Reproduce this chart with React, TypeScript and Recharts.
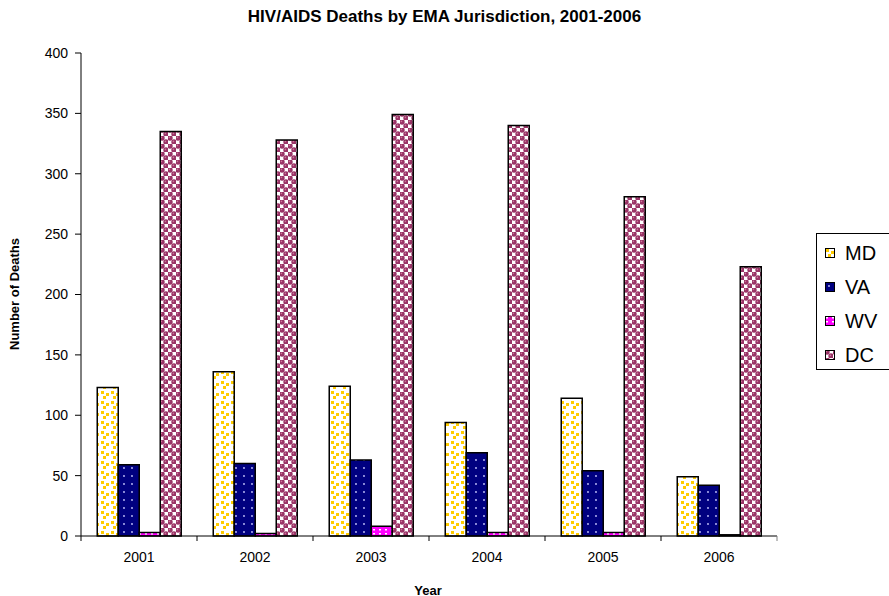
import { BarChart, Bar, XAxis, YAxis } from 'recharts';

const years = ['2001', '2002', '2003', '2004', '2005', '2006'];
const md = [123, 136, 124, 94, 114, 49];
const va = [59, 60, 63, 69, 54, 42];
const wv = [3, 2, 8, 3, 3, 1];
const dc = [335, 328, 349, 340, 281, 223];
const yTicks = [0, 50, 100, 150, 200, 250, 300, 350, 400];

const series = [
  { key: 'MD', fill: 'url(#pMD)' },
  { key: 'VA', fill: 'url(#pVA)' },
  { key: 'WV', fill: 'url(#pWV)' },
  { key: 'DC', fill: 'url(#pDC)' },
];

const data = years.map((year, i) => ({ year, MD: md[i], VA: va[i], WV: wv[i], DC: dc[i] }));

const FONT = '"Liberation Sans", Arial, sans-serif';
const HALF_BAND = 58;

function Patterns() {
  return (
    <defs>
      <pattern id="pMD" width="10" height="10" patternUnits="userSpaceOnUse">
        <rect width="10" height="10" fill="#fff" />
        <rect x="1" y="1" width="3" height="3" fill="#FFCC00" />
        <rect x="6" y="3" width="3" height="3" fill="#FFCC00" />
        <rect x="3" y="6" width="3" height="3" fill="#FFCC00" />
      </pattern>
      <pattern id="pVA" width="8" height="8" patternUnits="userSpaceOnUse">
        <rect width="8" height="8" fill="#000080" />
        <circle cx="4" cy="4" r="0.9" fill="#c8c8ff" />
      </pattern>
      <pattern id="pWV" width="6" height="4" patternUnits="userSpaceOnUse">
        <rect width="6" height="4" fill="#FF00FF" />
        <rect x="1" y="1" width="2" height="1.5" fill="#fff" />
      </pattern>
      <pattern id="pDC" width="8" height="8" patternUnits="userSpaceOnUse">
        <rect width="8" height="8" fill="#fff" />
        <circle cx="2" cy="2" r="2.7" fill="#993366" />
        <circle cx="6" cy="6" r="2.7" fill="#993366" />
        <circle cx="1.4" cy="1.4" r="0.8" fill="#cc7799" />
        <circle cx="5.4" cy="5.4" r="0.8" fill="#cc7799" />
      </pattern>
    </defs>
  );
}

function XTick(props: any) {
  const { x, y, payload, index } = props;
  return (
    <g>
      <line x1={x - HALF_BAND} x2={x - HALF_BAND} y1={y} y2={y + 5} stroke="#000" />
      {index === years.length - 1 && (
        <line x1={x + HALF_BAND} x2={x + HALF_BAND} y1={y} y2={y + 5} stroke="#808080" />
      )}
      <text x={x} y={y + 26} textAnchor="middle" fontSize={14} fill="#000" fontFamily={FONT}>
        {payload.value}
      </text>
    </g>
  );
}

export default function App() {
  return (
    <div style={{ position: 'absolute', left: 0, top: 0, width: 889, height: 596, background: '#fff', fontFamily: FONT, overflow: 'hidden' }}>
      <div style={{ position: 'absolute', left: 0, width: 889, top: 7, textAlign: 'center', fontSize: 17, fontWeight: 'bold' }}>
        HIV/AIDS Deaths by EMA Jurisdiction, 2001-2006
      </div>
      <div
        style={{
          position: 'absolute', left: 14, top: 294, fontSize: 13, fontWeight: 'bold', whiteSpace: 'nowrap',
          transform: 'translate(-50%, -50%) rotate(-90deg)',
        }}
      >
        Number of Deaths
      </div>
      <div style={{ position: 'absolute', left: 428, top: 590, fontSize: 13, fontWeight: 'bold', transform: 'translate(-50%, -50%)' }}>
        Year
      </div>

      <BarChart
        width={889}
        height={596}
        data={data}
        margin={{ top: 53, right: 112, bottom: 30, left: 9 }}
        barCategoryGap="14%"
        barGap={0}
      >
        <Patterns />
        <XAxis
          dataKey="year"
          height={30}
          axisLine={{ stroke: '#000' }}
          tickLine={false}
          tickSize={0}
          tickMargin={0}
          tick={<XTick />}
          interval={0}
        />
        <XAxis xAxisId="top" dataKey="year" orientation="top" height={0} axisLine={{ stroke: '#000' }} tick={false} tickLine={false} />
        <YAxis
          width={72}
          domain={[0, 400]}
          ticks={yTicks}
          interval={0}
          axisLine={{ stroke: '#000' }}
          tickLine={{ stroke: '#000' }}
          tickSize={6}
          tickMargin={7}
          tick={{ fontSize: 14, fill: '#000', fontFamily: FONT }}
        />
        <YAxis yAxisId="r" orientation="right" width={0} domain={[0, 400]} axisLine={{ stroke: '#808080' }} tick={false} tickLine={false} />
        {series.map((s) => (
          <Bar key={s.key} dataKey={s.key} fill={s.fill} stroke="#000" strokeWidth={1.5} isAnimationActive={false} />
        ))}
      </BarChart>

      <div
        style={{
          position: 'absolute', left: 816, top: 233, width: 100, height: 137, boxSizing: 'border-box',
          border: '1px solid #000', paddingTop: 2,
        }}
      >
        {series.map((s) => (
          <div key={s.key} style={{ display: 'flex', alignItems: 'center', height: 34 }}>
            <svg width={10} height={10} style={{ marginLeft: 8, marginRight: 10 }}>
              <rect x={0.5} y={0.5} width={9} height={9} fill={s.fill} stroke="#000" />
            </svg>
            <span style={{ fontSize: 20 }}>{s.key}</span>
          </div>
        ))}
      </div>
    </div>
  );
}
